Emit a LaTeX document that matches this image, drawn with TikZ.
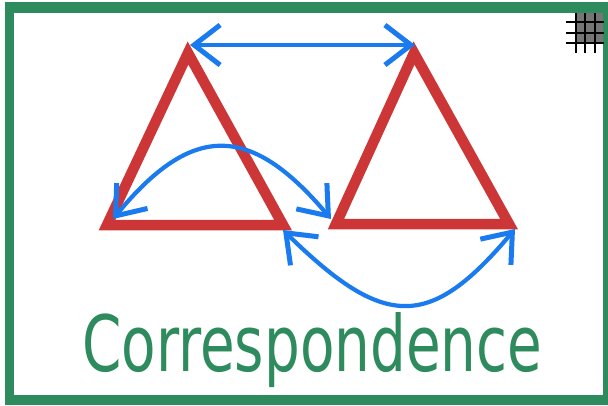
\documentclass[tikz,border=0pt]{standalone}
\usepackage{fontspec}
\usetikzlibrary{arrows.meta}
\newfontfamily\titlefont{DejaVu Sans}
\definecolor{frameGreen}{RGB}{46,139,94}
\definecolor{triRed}{RGB}{204,54,54}
\definecolor{arrBlue}{RGB}{26,122,240}
\definecolor{gridGray}{RGB}{118,118,118}
\begin{document}
\begin{tikzpicture}[x=1pt,y=-1pt,
  tri/.style={draw=triRed, line width=10.5pt, line join=miter},
  corr/.style={draw=arrBlue, line width=4.2pt,
    {Straight Barb[length=26pt,width=40pt,line width=5pt,line cap=butt]}-{Straight Barb[length=26pt,width=40pt,line width=5pt,line cap=butt]}},
  gridline/.style={draw=black, line width=2pt}]
\useasboundingbox (0,0) rectangle (608,405);
% frame
\fill[frameGreen] (5,2) rectangle (608,405);
\fill[white] (14,13) rectangle (603,395);
% grid icon
\fill[gridGray] (575,13) rectangle (603,43);
\foreach \y in {22,33,43} \draw[gridline] (566,\y) -- (604,\y);
\foreach \x in {576,585,595} \draw[gridline] (\x,13) -- (\x,53);
% triangles
\coordinate (A1) at (188,53);
\coordinate (B1) at (107,225);
\coordinate (C1) at (283,225);
\coordinate (A2) at (414,53);
\coordinate (B2) at (336,224);
\coordinate (C2) at (509,224);
\draw[tri] (A1) -- (B1) -- (C1) -- cycle;
\draw[tri] (A2) -- (B2) -- (C2) -- cycle;
% correspondences
\coordinate (t1) at (190,45);
\coordinate (t2) at (415,45);
\coordinate (c1) at (113,219);
\coordinate (c2) at (331,219);
\coordinate (d1) at (283,230);
\coordinate (d2) at (515,229);
\draw[corr] (t1) -- (t2);
\draw[corr] (c1) .. controls (192,123) and (250,123) .. (c2);
\draw[corr] (d1) .. controls (385,330) and (430,330) .. (d2);
% title
\node[anchor=base west, inner sep=0pt, text=frameGreen] (title) at (82,371)
  {\resizebox{460pt}{59pt}{\titlefont Correspondence}};
\end{tikzpicture}
\end{document}
